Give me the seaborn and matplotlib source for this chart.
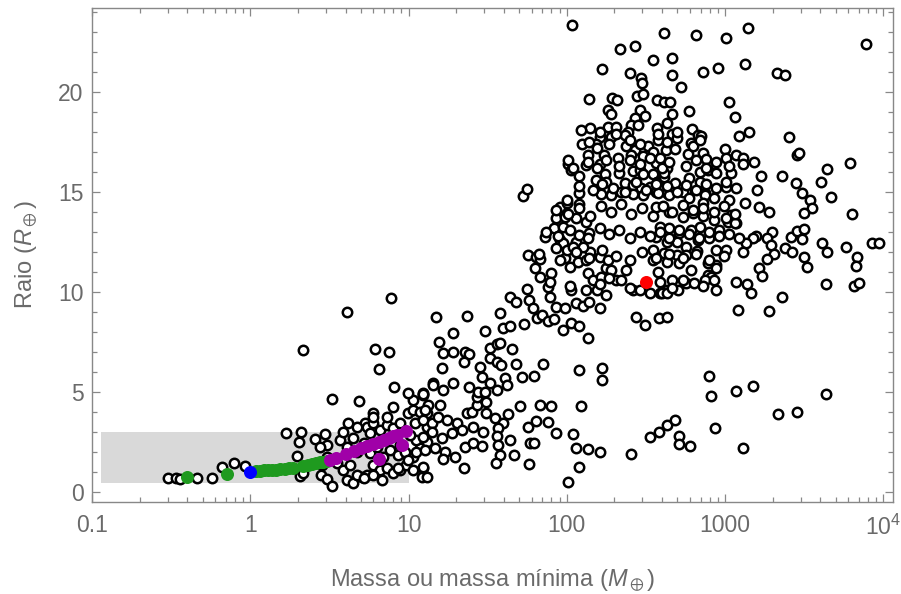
import numpy as np
import pandas as pd
import matplotlib.pyplot as plt
import seaborn as sns
from matplotlib.ticker import FixedLocator, FuncFormatter, LogLocator, MultipleLocator, NullFormatter

# Exoplanets: (mass or minimum mass in M_earth, radius in R_earth)
small_planets = [
    (0.30, 0.70), (0.34, 0.72), (0.36, 0.65), (0.46, 0.72), (0.57, 0.70),
    (0.66, 1.25), (0.79, 1.47), (0.92, 1.30),
    (1.68, 2.95), (2.09, 3.00), (2.04, 2.50), (2.57, 2.65), (2.97, 2.90), (3.05, 2.35), (1.97, 1.80),
    (2.07, 0.80), (2.16, 0.95), (2.80, 0.85), (3.06, 0.65), (3.28, 0.30), (4.08, 0.60), (4.46, 0.47),
    (3.28, 4.65), (4.87, 4.57), (8.1, 5.27), (8.0, 4.25), (4.15, 3.47), (5.3, 3.47), (6.0, 3.95),
    (5.07, 0.77), (5.45, 0.85), (12.1, 0.77), (12.3, 4.95),
    (7.7, 9.68), (4.08, 8.98), (2.15, 7.08), (6.1, 7.15), (7.55, 6.98), (6.55, 6.13), (12.4, 4.85),
    (5.45, 3.27), (6.0, 3.43), (6.6, 3.10), (7.3, 3.35), (8.0, 3.18), (8.8, 3.43), (9.9, 3.93),
    (10.7, 4.10), (11.8, 4.02), (13.0, 3.93),
    (3.69, 2.60), (4.08, 2.27), (4.48, 2.68), (4.7, 2.02), (5.2, 2.43), (5.7, 1.93), (6.3, 2.27),
    (6.9, 1.77), (7.6, 2.10), (8.6, 1.85), (9.5, 2.02), (10.7, 1.77), (11.8, 2.18), (13.0, 2.52),
    (3.52, 1.43), (3.88, 1.10), (4.27, 1.35), (4.7, 0.85), (5.2, 0.72), (6.0, 1.35), (6.6, 1.10),
    (7.3, 1.18), (8.0, 0.93), (8.8, 1.10), (9.7, 1.35), (10.7, 1.10), (12.4, 1.18),
    (11.2, 2.60), (13.0, 3.27), (11.0, 3.43), (12.4, 3.60), (6.0, 3.77), (7.3, 3.73),
    (2.76, 2.27), (3.05, 1.77), (2.83, 1.35),
    (3.88, 3.02), (4.7, 3.27), (5.7, 2.93), (6.8, 2.60), (8.8, 2.35), (10.2, 2.85), (11.2, 2.02),
    (9.9, 1.60), (8.6, 1.18), (6.0, 0.85), (6.8, 0.60), (10.7, 4.60), (13.3, 4.35), (9.9, 4.93),
]

mid_planets = [
    (12.4, 4.90), (14.3, 5.43), (16.6, 5.10), (19.2, 5.43), (15.8, 4.35), (12.7, 4.10),
    (14.0, 3.43), (15.4, 3.77), (17.4, 3.60), (20.2, 3.43), (23.4, 3.93), (25.1, 4.02), (27.1, 4.35),
    (12.4, 2.77), (14.0, 3.02), (16.2, 2.68), (18.7, 2.93), (21.7, 3.10), (25.7, 3.27), (29.6, 3.02),
    (12.7, 2.10), (14.7, 2.18), (17.0, 2.02), (19.7, 1.77), (22.7, 2.27), (25.7, 2.43), (29.0, 2.30),
    (12.4, 1.27), (13.0, 0.77), (16.4, 1.63), (22.4, 1.22),
    (31.0, 3.93), (35.0, 3.68), (27.0, 4.77), (32.6, 5.43),
    (19.0, 7.93), (15.6, 7.48), (16.6, 6.97), (19.2, 7.02), (22.7, 7.02), (24.2, 6.88), (22.4, 6.48),
    (32.6, 7.18), (36.0, 7.40), (37.7, 7.47), (45.0, 7.15), (32.6, 6.68), (36.0, 6.52), (38.6, 6.35),
    (48.0, 6.40), (52.0, 5.77), (62.0, 5.82), (71.0, 6.40),
    (16.2, 6.18), (28.2, 6.27), (28.9, 5.77), (27.4, 5.02), (30.4, 5.02), (31.0, 4.52),
    (24.2, 5.23), (40.6, 5.68), (41.6, 5.35), (36.3, 5.10), (14.2, 5.35),
    (50.4, 4.30), (67.4, 4.35), (80.0, 4.30), (122, 4.30),
    (42.6, 3.90), (39.6, 3.43), (36.7, 3.18), (36.0, 2.80), (36.7, 2.35), (37.7, 1.85), (35.6, 1.43),
    (43.6, 2.60), (46.3, 1.85), (57.0, 3.27), (58.3, 2.47), (62.0, 2.43), (64.0, 3.57), (76.0, 3.52),
    (57.6, 1.40), (86.0, 2.93), (110, 2.90), (115, 2.18), (136, 2.13), (161, 1.98), (120, 1.23),
    (101, 0.52), (255, 1.90),
    (14.8, 8.73), (23.4, 8.80), (37.7, 8.97), (30.4, 8.07), (39.6, 8.18), (43.6, 8.30), (54.0, 8.40),
    (65.0, 8.68), (70.0, 8.85), (76.0, 8.57), (83.0, 8.63), (95.0, 8.10), (107, 8.43), (120, 8.30),
    (136, 7.68), (120, 6.10), (168, 6.18), (168, 5.60),
    (333, 2.77), (380, 3.02), (430, 3.35), (480, 3.60), (510, 2.80), (510, 2.38), (600, 2.30),
    (795, 5.80), (820, 4.80), (860, 3.18), (1180, 5.03), (1500, 5.30), (1300, 2.20),
    (2150, 3.90), (2850, 4.02), (4340, 4.90),
]

giant_planets = [
    (43.6, 9.77), (48, 9.52), (56, 10.13), (58, 9.6), (61, 9.18),
    (76, 10.23), (78, 9.73), (85, 9.27), (97, 9.18), (107, 10.1), (115, 9.43), (126, 9.3),
    (139, 9.52), (161, 9.18), (178, 9.85), (154, 10.1),
    (274, 8.73), (310, 8.33), (380, 8.68), (428, 8.73),
    (262, 10.1), (288, 10.1), (333, 9.97), (385, 9.93), (428, 10.1),
    (57, 11.85), (64, 11.73), (68, 11.63), (63, 11.18), (68, 10.73), (80, 10.97),
    (97, 11.68), (104, 11.27), (117, 11.52), (133, 11.6), (141, 12.02),
    (136, 10.93), (146, 10.6), (165, 10.77), (178, 11.18),
    (161, 11.77), (182, 11.6), (190, 11.1), (205, 10.6), (220, 10.6), (238, 11.1),
    (73, 12.73), (90, 12.6), (95, 12.43), (85, 12.18), (100, 12.1),
    (115, 12.52), (120, 12.85), (138, 12.93), (110, 12.27), (126, 12.27),
    (120, 14.4), (90, 14.27), (100, 14.43), (85, 13.7), (97, 13.77), (115, 13.7), (133, 13.5),
    (83, 13.2), (95, 13.27),
    (108, 23.35), (410, 22.97), (216, 22.17), (268, 22.3), (348, 21.6), (168, 21.17), (249, 20.97),
    (295, 20.7), (300, 20.45),
    (138, 19.65), (194, 19.7), (207, 19.6), (279, 19.8), (303, 19.9), (369, 19.6), (414, 19.5),
    (183, 19.1), (190, 18.9), (288, 19.1), (310, 18.8), (268, 18.7),
    (141, 18.2), (182, 18.27), (205, 18.23), (255, 18.35), (243, 18.0), (280, 18.35), (370, 18.2),
    (161, 17.77), (190, 17.73), (234, 17.85), (375, 17.6),
    (125, 17.4), (152, 17.4), (154, 17.2), (236, 17.3), (268, 17.1), (326, 17.3), (350, 17.0), (425, 17.1),
    (136, 16.85), (171, 16.85), (212, 16.7), (255, 16.85), (303, 16.8), (385, 16.6),
    (101, 16.4), (107, 16.1), (120, 15.8), (133, 16.35), (161, 16.4), (175, 15.9), (152, 15.6),
    (178, 15.5), (194, 14.95),
    (215, 15.95), (232, 15.45), (220, 15.0), (260, 16.05), (288, 16.1), (303, 15.9),
    (350, 15.9), (370, 15.5), (414, 15.75), (260, 15.35), (294, 15.2), (333, 15.25), (365, 15.0), (428, 14.95),
    (53, 14.8), (56, 15.15),
    (120, 14.95), (165, 14.9), (190, 14.85), (262, 14.9), (302, 14.85), (100, 14.6),
    (650, 22.85), (1010, 22.7), (1390, 23.2), (7800, 22.4),
    (460, 21.7), (465, 20.85), (525, 20.27), (720, 21.0), (900, 21.2), (1330, 21.4), (2130, 20.97), (2400, 20.83),
    (450, 19.5), (460, 18.9), (595, 19.05), (1063, 19.5), (1150, 18.77),
    (430, 18.47), (465, 17.9), (500, 17.7), (620, 18.15), (675, 17.85), (700, 17.8), (610, 17.47),
    (1230, 17.8), (1420, 18.0), (2540, 17.73),
    (480, 17.13), (585, 16.9), (720, 16.93), (760, 16.63), (1000, 17.15), (1010, 16.68), (1170, 16.85),
    (1290, 16.68), (1530, 16.5),
    (2850, 16.85), (2930, 16.93), (6150, 16.47), (4400, 16.13),
    (365, 16.43), (390, 16.68), (430, 16.18), (414, 15.93),
    (595, 15.7), (690, 16.0), (780, 16.1), (880, 15.93), (1090, 15.93), (1680, 15.8), (2300, 15.8),
    (2790, 15.45), (4040, 15.5),
    (1010, 15.25), (480, 15.45), (570, 15.0), (690, 15.5), (750, 14.93), (1580, 15.1),
    (3070, 14.93), (3450, 14.6), (4700, 14.73),
    (3520, 14.18), (3170, 13.93), (6300, 13.9),
    (1060, 14.6), (1330, 14.43), (1640, 14.27), (1900, 14.02),
    (1090, 13.85), (1180, 13.47), (1040, 13.52),
    (1990, 13.0), (1840, 12.68), (1940, 12.35), (2040, 11.9), (1840, 11.63),
    (1560, 12.8), (1500, 12.68), (1360, 12.43), (1300, 12.02),
    (1640, 11.18), (1720, 10.8), (2400, 12.18), (2650, 12.02),
    (2620, 12.73), (2850, 13.07), (3070, 12.63), (3150, 13.13), (3170, 11.77), (3290, 11.27),
    (4100, 12.47), (4430, 12.02), (5800, 12.23), (6780, 11.77), (6700, 11.3),
    (8480, 12.47), (9360, 12.47),
    (4340, 10.4), (6560, 10.3), (7000, 10.47),
    (1450, 9.97), (2300, 9.73), (1200, 9.1), (1900, 9.05),
]

core_planets = [
    (375, 14.93), (445, 14.85), (540, 15.0), (595, 14.68), (750, 14.85), (730, 14.43), (850, 14.68),
    (365, 14.27), (445, 14.02), (540, 13.77), (625, 13.93), (730, 13.8), (850, 13.6), (1010, 13.68), (1150, 13.43),
    (385, 13.27), (445, 13.18), (514, 12.93), (610, 13.1), (690, 13.27), (795, 12.68), (919, 13.1),
    (365, 12.77), (428, 12.52), (495, 12.52), (570, 12.27), (670, 12.6), (870, 12.1), (1010, 12.1),
    (350, 12.1), (414, 11.93), (495, 11.85), (570, 11.85), (660, 12.05), (780, 11.43), (870, 11.35),
    (350, 11.6), (428, 11.52), (514, 11.43), (610, 11.1), (780, 10.85), (820, 10.77), (880, 11.18),
    (375, 11.02), (460, 10.6), (570, 10.43), (640, 10.43), (750, 10.6), (850, 10.6),
    (400, 9.93), (428, 9.93), (505, 10.1),
    (123, 18.1), (139, 17.5), (161, 18.0), (186, 17.4), (205, 17.9), (249, 17.6), (288, 17.4),
    (375, 17.9), (428, 17.5), (495, 18.0), (630, 17.3), (690, 17.6),
    (101, 16.6), (110, 16.2), (136, 16.5), (156, 16.2), (178, 16.6), (215, 16.3), (249, 16.6),
    (288, 16.4), (333, 16.7), (397, 16.2), (445, 16.5), (570, 16.3), (650, 16.6), (760, 16.2),
    (870, 16.5), (1063, 16.3), (1300, 16.4),
    (120, 15.3), (146, 15.1), (168, 15.4), (195, 15.2), (232, 15.0), (274, 15.5), (318, 15.1),
    (365, 15.4), (428, 15.3), (495, 15.0), (570, 15.35), (650, 15.1), (760, 15.4), (870, 15.2),
    (1010, 15.5), (1180, 15.2),
    (85, 14.1), (101, 13.9), (120, 14.2), (141, 13.8), (165, 14.3), (190, 14.0), (220, 14.4),
    (255, 13.9), (300, 14.2), (350, 13.8), (405, 14.3), (465, 14.0), (540, 14.35), (630, 14.1),
    (730, 14.2), (850, 14.0), (990, 14.3), (1150, 13.9),
    (74, 13.0), (88, 12.8), (104, 13.1), (136, 12.7), (161, 13.2), (186, 12.9), (215, 13.1),
    (249, 12.7), (288, 13.0), (333, 12.8), (385, 13.0), (445, 12.7), (514, 13.1), (595, 12.9),
    (688, 12.7), (795, 13.0), (919, 12.8), (1063, 12.9), (1229, 12.7),
    (67, 11.9), (90, 11.6), (115, 12.0), (139, 11.7), (168, 12.1), (205, 11.8), (249, 11.6),
    (300, 12.0), (365, 11.7), (445, 11.9), (540, 11.7), (650, 11.9), (795, 11.6), (990, 11.8),
    (78, 10.5), (104, 10.3), (133, 10.1), (161, 10.4), (186, 10.7), (249, 10.2), (385, 10.5),
    (465, 10.2), (540, 10.6), (730, 10.3), (870, 10.1), (1180, 10.5), (1380, 10.4),
]

# Solar-system / model planets
green_mass = [0.40, 0.71, 1.08, 1.15, 1.22, 1.30, 1.38, 1.46, 1.55, 1.65, 1.75, 1.85,
              2.15, 2.30, 2.45, 2.60, 2.75, 2.90, 3.05]
green_radius = [0.77, 0.90, 1.05, 1.07, 1.08, 1.10, 1.10, 1.12, 1.14, 1.16, 1.18, 1.22,
                1.30, 1.35, 1.40, 1.44, 1.48, 1.52, 1.57]
purple_mass = [3.2, 3.5, 4.0, 4.5, 5.0, 5.5, 6.0, 6.5, 7.0, 7.5, 8.0, 8.4, 6.5, 9.05, 9.7]
purple_radius = [1.60, 1.72, 1.89, 2.04, 2.18, 2.30, 2.41, 2.52, 2.61, 2.70, 2.79, 2.85, 1.65, 2.35, 3.07]
earth = ([1.0], [1.0])
jupiter = ([318], [10.5])

# Shaded region
box_mass = (0.114, 10.0)
box_radius = (0.47, 3.0)

all_planets = small_planets + mid_planets + giant_planets + core_planets
df = pd.DataFrame(all_planets, columns=['massa', 'raio'])

sns.set_style('ticks')
plt.rcParams['font.family'] = ['Liberation Sans', 'DejaVu Sans']
plt.rcParams['mathtext.fontset'] = 'custom'
plt.rcParams['mathtext.rm'] = 'Liberation Sans'
plt.rcParams['mathtext.it'] = 'Liberation Sans:italic'
plt.rcParams['mathtext.fallback'] = 'stix'

fig, ax = plt.subplots(figsize=(9.01, 5.94), dpi=100)
fig.subplots_adjust(left=92 / 901, right=893 / 901, top=1 - 8 / 594, bottom=1 - 502 / 594)

ax.fill_between(box_mass, box_radius[0], box_radius[1], color='#d9d9d9', lw=0, zorder=0)

sns.scatterplot(data=df, x='massa', y='raio', color='white', edgecolor='black',
                linewidth=1.8, s=46, ax=ax, zorder=3)
sns.scatterplot(x=green_mass, y=green_radius, color='#1f9a1f', s=88, linewidth=0, ax=ax, zorder=4)
sns.scatterplot(x=purple_mass, y=purple_radius, color='#a000a8', s=88, linewidth=0, ax=ax, zorder=5)
sns.scatterplot(x=earth[0], y=earth[1], color='#0000ff', s=88, linewidth=0, ax=ax, zorder=6)
sns.scatterplot(x=jupiter[0], y=jupiter[1], color='#ff0000', s=88, linewidth=0, ax=ax, zorder=6)

ax.set_xscale('log')
ax.set_xlim(0.1, 1.15e4)
ax.set_ylim(-0.5, 24.2)

tick_names = {0.1: '0.1', 1: '1', 10: '10', 100: '100', 1000: '1000', 10000: '$10^4$'}
ax.xaxis.set_major_locator(FixedLocator(list(tick_names)))
ax.xaxis.set_major_formatter(FuncFormatter(lambda v, p: tick_names.get(round(v, 1), '')))
ax.xaxis.set_minor_locator(LogLocator(base=10, subs=np.arange(2, 10), numticks=20))
ax.xaxis.set_minor_formatter(NullFormatter())
ax.yaxis.set_major_locator(MultipleLocator(5))
ax.yaxis.set_minor_locator(MultipleLocator(1))

gray = '#888888'
ax.tick_params(which='both', direction='in', top=True, right=True, color=gray, width=0.9)
ax.tick_params(which='major', length=6, labelsize=16.5, labelcolor='#6a6a6a')
ax.tick_params(which='minor', length=3.5)
ax.tick_params(axis='x', pad=9)
ax.tick_params(axis='y', pad=6)
for sp in ax.spines.values():
    sp.set_color(gray)
    sp.set_linewidth(1)

ax.set_xlabel(r'Massa ou massa mínima ($M_\oplus$)', fontsize=17, color='#6a6a6a', labelpad=20)
ax.set_ylabel(r'Raio ($R_\oplus$)', fontsize=17, color='#6a6a6a', labelpad=13)

plt.savefig('out.png', dpi=100)
